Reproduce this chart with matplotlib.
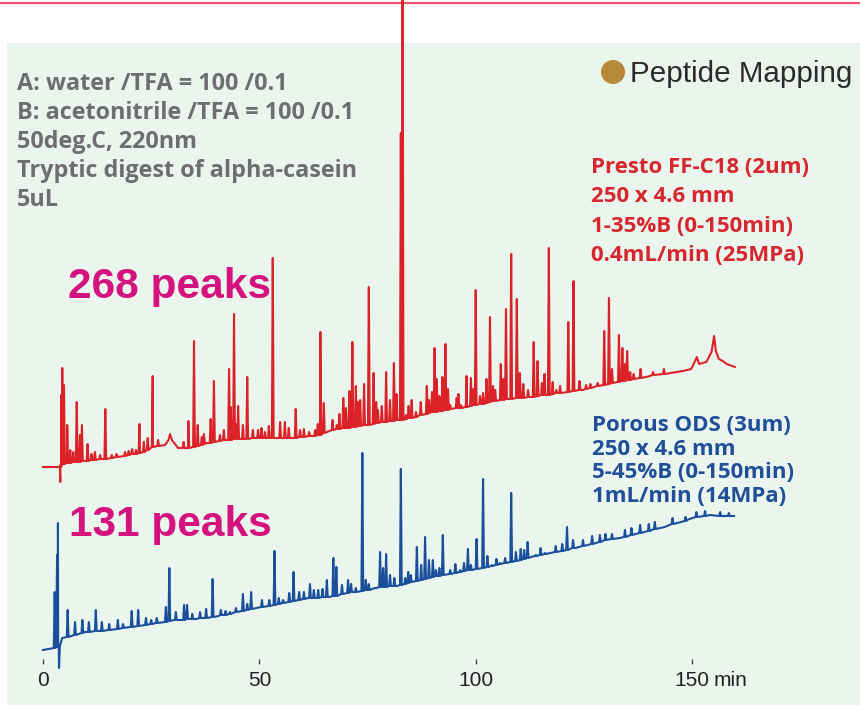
import numpy as np
import matplotlib.pyplot as plt
from matplotlib.patches import Rectangle, Ellipse
from matplotlib.lines import Line2D

# Chromatogram data: time (min) and signal (arbitrary units)
# Presto FF-C18 trace (red): baseline knots, then peaks (time, apex, foot)
red_base_t = [0, 3.9, 5.5, 14.7, 22.4, 25.4, 28.2, 29.0, 29.35, 29.8, 31.2, 33.5, 37.8, 42.5,
              50.2, 57.8, 64.0, 67.0, 74.9, 82.5, 90.1, 98.0, 105.6, 113.2, 117.9, 124.8,
              132.7, 140.3, 147.9, 149.8, 150.7, 151.1, 151.6, 153.3, 154.5, 155.1, 155.5,
              156.2, 157.1, 158.0, 159.9]
red_base_y = [197, 197, 201, 205, 211, 217, 219, 224, 230, 224, 216, 216, 221, 224,
              226, 226, 229, 234, 239, 244, 252, 257, 264, 267, 270, 274,
              282, 288, 293, 295, 303, 307, 300, 302, 312, 328, 313,
              305, 303, 300, 297]

red_peak_t = [4.0, 4.2, 4.45, 4.85, 5.6, 6.3, 7.0, 7.8, 8.55, 9.0, 10.3, 11.2, 12.0, 13.2,
              14.4, 15.9, 17.0, 18.95, 19.8, 20.6, 21.5, 22.3, 23.3, 24.2, 25.35, 26.6,
              32.5, 33.6, 34.9, 35.75, 36.7, 37.2, 38.75, 39.5, 40.9, 41.8, 43.0, 43.4,
              44.15, 44.7, 45.1, 46.2, 47.2, 48.5, 49.7, 50.5, 51.3, 52.2, 53.1, 54.8,
              55.9, 56.8, 58.4, 59.4, 60.3, 61.5, 62.9, 63.5, 64.1, 64.9, 66.95, 67.9,
              68.5, 69.4, 70.0, 70.8, 71.5, 72.3, 72.8, 73.3, 74.2, 75.3, 76.4, 77.0,
              77.4, 78.3, 79.3, 80.2, 81.1, 81.7, 82.7, 83.1, 83.9, 84.5, 85.2, 86.2,
              87.3, 88.7, 89.2, 89.9, 90.5, 91.0, 91.6, 92.3, 93.0, 93.6, 94.1, 95.6,
              96.0, 96.6, 97.9, 98.9, 99.5, 100.0, 101.0, 101.7, 102.5, 103.3, 104.0,
              104.5, 105.8, 106.4, 107.0, 108.2, 109.5, 110.2, 111.0, 112.1, 113.4,
              114.3, 115.3, 115.9, 116.9, 117.8, 118.6, 119.5, 121.4, 122.6, 124.0,
              125.5, 126.5, 128.2, 129.7, 130.8, 131.5, 133.1, 133.9, 134.5, 135.0,
              135.7, 136.5, 138.1, 141.0, 143.5]
red_peak_top = [182, 269, 296, 279, 239, 214, 212, 262, 229, 239, 220, 210, 212, 209,
                255, 209, 210, 212, 213, 215, 214, 240, 222, 226, 288, 224,
                222, 243, 323, 239, 227, 230, 245, 283, 229, 234, 295, 257,
                350, 240, 258, 239, 287, 234, 234, 236, 232, 238, 406, 242,
                242, 236, 255, 234, 235, 232, 234, 240, 332, 261, 244, 239,
                250, 266, 256, 273, 322, 278, 262, 264, 280, 377, 291, 262,
                254, 258, 292, 264, 301, 270, 531, 760, 249, 258, 264, 252,
                262, 278, 264, 272, 316, 285, 268, 287, 320, 275, 259, 266,
                270, 259, 288, 286, 275, 374, 268, 271, 285, 347, 278,
                274, 300, 285, 355, 410, 365, 291, 280, 274, 322,
                303, 281, 290, 416, 282, 274, 278, 342, 383, 283,
                279, 280, 281, 333, 366, 295, 329, 316, 300, 313,
                292, 290, 295, 292, 295]
red_peak_base = [197, 199, 200, 200, 201, 201, 202, 202, 202, 203, 203, 204, 204, 205,
                 205, 206, 207, 208, 209, 210, 210, 211, 212, 214, 217, 218,
                 216, 216, 217, 218, 219, 220, 221, 222, 223, 224, 224, 224,
                 225, 225, 225, 225, 225, 226, 226, 226, 226, 226, 226, 226,
                 226, 226, 226, 227, 227, 228, 228, 229, 229, 231, 234, 235,
                 235, 236, 236, 236, 237, 237, 238, 238, 239, 239, 240, 241,
                 241, 242, 242, 243, 243, 244, 244, 244, 245, 246, 246, 247,
                 249, 250, 251, 252, 252, 252, 253, 253, 254, 254, 255, 256,
                 256, 256, 257, 258, 259, 259, 260, 260, 261, 262, 263,
                 263, 264, 264, 265, 265, 266, 266, 266, 267, 267,
                 268, 269, 269, 269, 270, 271, 271, 272, 273, 274,
                 275, 276, 278, 279, 280, 281, 282, 283, 283, 284,
                 284, 285, 286, 289, 290]

# Porous ODS trace (blue)
blue_base_t = [0, 2.4, 4.45, 9.6, 20.0, 30.3, 35.5, 40.6, 50.8, 61.2, 66.3, 71.5, 81.8,
               92.2, 102.5, 112.8, 123.1, 133.3, 143.7, 148.8, 154.1, 159.7]
blue_base_y = [14, 16, 26, 32, 37, 44, 45, 48, 57, 66, 67, 72, 78,
               89, 97, 107, 116, 126, 137, 144, 149, 148]

blue_peak_t = [2.7, 3.25, 3.45, 3.7, 5.7, 7.4, 9.1, 10.6, 12.2, 13.6, 15.3, 17.3, 18.5,
               20.5, 22.0, 23.8, 25.0, 26.3, 28.4, 29.2, 30.7, 32.6, 33.3, 34.5, 36.3,
               37.7, 39.2, 41.1, 42.2, 43.2, 44.6, 46.2, 47.2, 48.1, 50.6, 52.3, 53.5,
               54.5, 55.5, 56.9, 57.9, 59.2, 60.3, 61.7, 62.6, 63.6, 64.6, 65.6, 67.1,
               67.8, 69.1, 70.5, 71.2, 72.3, 73.8, 74.6, 75.3, 76.9, 77.9, 78.6, 79.3,
               80.2, 81.2, 82.7, 83.7, 84.4, 85.0, 86.4, 87.4, 88.3, 89.2, 90.1, 90.8,
               91.6, 92.4, 94.1, 95.3, 96.4, 97.3, 98.2, 98.9, 100.2, 101.7, 102.7,
               103.8, 104.8, 105.6, 106.8, 108.2, 109.3, 110.4, 111.2, 112.0, 113.9,
               115.0, 116.0, 118.5, 120.0, 121.1, 122.5, 124.8, 126.9, 128.7, 130.0,
               131.5, 134.5, 136.0, 138.0, 140.0, 141.4, 145.5, 148.5, 151.0, 153.0,
               156.5, 158.5]
blue_peak_top = [72, 109, 141, -4, 54, 42, 44, 42, 54, 42, 40, 44, 40,
                 53, 54, 46, 44, 46, 57, 96, 52, 59, 59, 50, 52,
                 55, 85, 54, 53, 52, 56, 70, 60, 72, 64, 64, 113,
                 66, 64, 71, 92, 72, 72, 80, 74, 74, 75, 84, 106,
                 97, 79, 84, 80, 76, 211, 84, 80, 76, 112, 96, 110,
                 89, 86, 195, 86, 92, 89, 117, 99, 127, 104, 104, 94,
                 96, 129, 94, 100, 94, 101, 115, 99, 125, 185, 108,
                 99, 105, 101, 106, 171, 112, 115, 114, 122, 109,
                 116, 111, 118, 120, 137, 124, 124, 128, 129, 130,
                 130, 134, 136, 139, 140, 142, 146, 147, 152, 153,
                 152, 151]
blue_peak_base = [16, 17, 17, 18, 27, 29, 31, 32, 33, 33, 34, 35, 36,
                  37, 38, 39, 40, 41, 42, 43, 44, 44, 45, 45, 46,
                  46, 47, 49, 49, 50, 52, 53, 54, 55, 57, 58, 59,
                  60, 61, 62, 63, 64, 65, 66, 66, 66, 67, 67, 68,
                  68, 70, 71, 72, 72, 73, 74, 74, 76, 77, 77, 77,
                  78, 78, 79, 80, 81, 82, 83, 84, 85, 86, 87, 88,
                  88, 89, 90, 91, 92, 93, 94, 94, 95, 96, 97,
                  98, 99, 100, 101, 102, 103, 104, 105, 106, 108,
                  109, 110, 112, 113, 114, 116, 118, 120, 122, 124,
                  125, 127, 129, 131, 133, 135, 140, 143, 147, 148,
                  148, 148]

ticks = [0, 50, 100, 150]
tick_labels = ['0', '50', '100', '150']

left_lines = ['A: water /TFA = 100 /0.1', 'B: acetonitrile /TFA = 100 /0.1',
              '50deg.C, 220nm', 'Tryptic digest of alpha-casein', '5uL']
red_lines = ['Presto FF-C18 (2um)', '250 x 4.6 mm', '1-35%B (0-150min)', '0.4mL/min (25MPa)']
blue_lines = ['Porous ODS (3um)', '250 x 4.6 mm', '5-45%B (0-150min)', '1mL/min (14MPa)']


def build_trace(base_t, base_y, pk_t, pk_top, pk_base, w):
    t = list(base_t)
    y = list(base_y)
    for tp, top, b in zip(pk_t, pk_top, pk_base):
        t += [tp - w, tp, tp + w]
        y += [b, top, b]
    order = np.argsort(t, kind='stable')
    return np.array(t)[order], np.array(y)[order]


W, H = 860, 708
fig = plt.figure(figsize=(W / 100, H / 100), dpi=100)

# green panel and top rule
fig.patches.append(Rectangle((7 / W, 1 - 705 / H), 853 / W, 662 / H,
                             transform=fig.transFigure, facecolor='#eaf5ed',
                             edgecolor='none', zorder=-5))
fig.lines.append(Line2D([0, 1], [1 - 2.5 / H, 1 - 2.5 / H], transform=fig.transFigure,
                        color='#e8566f', lw=1.6, zorder=-4))

# axes: bottom edge at pixel row 664, time 0 at pixel column 43
px_per_min = 4.327
ax = fig.add_axes([0, 44 / H, 1, 664 / H])
ax.set_xlim(-43 / px_per_min, (W - 43) / px_per_min)
ax.set_ylim(0, 664)
ax.patch.set_visible(False)
for s in ax.spines.values():
    s.set_visible(False)
ax.set_yticks([])
ax.set_xticks(ticks)
ax.set_xticklabels(tick_labels)
ax.tick_params(axis='x', direction='in', length=3.5, width=0.9, color='#333333',
               pad=5, labelsize=15, labelcolor='#222222')
for lab in ax.get_xticklabels():
    lab.set_family(['Liberation Sans', 'DejaVu Sans'])
ax.annotate('min', xy=(150, 0), xytext=(15.5, -5), textcoords='offset points',
            ha='left', va='top', fontsize=15, color='#222222',
            family=['Liberation Sans', 'DejaVu Sans'])

rt, ry = build_trace(red_base_t, red_base_y, red_peak_t, red_peak_top, red_peak_base, 0.2)
bt, by = build_trace(blue_base_t, blue_base_y, blue_peak_t, blue_peak_top, blue_peak_base, 0.2)
ax.plot(rt, ry, color='#dc2229', lw=1.5, clip_on=False, zorder=3)
ax.plot(bt, by, color='#1a4f9c', lw=1.5, clip_on=False, zorder=3)

# annotations
hum = ['Open Sans', 'DejaVu Sans']
for i, s in enumerate(left_lines):
    fig.text(17 / W, 1 - (90 + 29 * i) / H, s, fontsize=16.8, fontweight='bold',
             color='#6d6e71', family=hum, va='baseline')
for i, s in enumerate(red_lines):
    fig.text(591 / W, 1 - (173 + 29.5 * i) / H, s, fontsize=16, fontweight='bold',
             color='#d7262e', family=hum, va='baseline')
for i, s in enumerate(blue_lines):
    fig.text(592 / W, 1 - (431 + 23.7 * i) / H, s, fontsize=16, fontweight='bold',
             color='#1f4f98', family=hum, va='baseline')

fig.text(68 / W, 1 - 298 / H, '268 peaks', fontsize=30.5, fontweight='bold',
         color='#d4137f', family=['Liberation Sans', 'DejaVu Sans'], va='baseline')
fig.text(69 / W, 1 - 536 / H, '131 peaks', fontsize=30.5, fontweight='bold',
         color='#d4137f', family=['Liberation Sans', 'DejaVu Sans'], va='baseline')

fig.patches.append(Ellipse((613 / W, 1 - 72 / H), 24 / W, 24 / H, transform=fig.transFigure,
                           facecolor='#b8893a', edgecolor='none'))
fig.text(630 / W, 1 - 82 / H, 'Peptide Mapping', fontsize=21.3, color='#2b2b2b',
         family=['Liberation Sans', 'DejaVu Sans'], va='baseline')

fig.savefig('out.png', dpi=100)
